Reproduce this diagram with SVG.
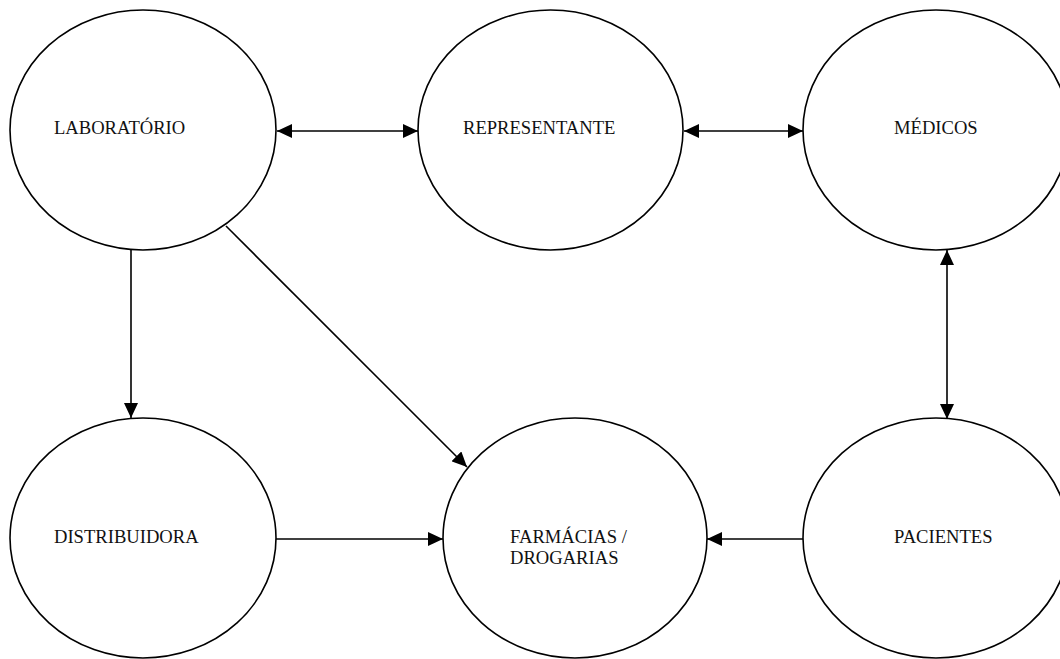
<svg xmlns="http://www.w3.org/2000/svg" width="1060" height="659" viewBox="0 0 1060 659">
<style>
.node ellipse{fill:#fff;stroke:#000;stroke-width:1.6}
.node text{font-family:"Liberation Serif","Times New Roman",serif;font-size:18.6px;fill:#111}
.conn line{stroke:#000;stroke-width:1.6}
</style>
<defs>
<marker id="ah" viewBox="0 0 15 14" refX="15" refY="7" markerWidth="15" markerHeight="14" markerUnits="userSpaceOnUse" orient="auto-start-reverse">
<path d="M0,0 L15,7 L0,14 Z" fill="#000"/>
</marker>
</defs>
<rect width="1060" height="659" fill="#fff"/>
<g id="laboratorio" class="node"><ellipse cx="143" cy="130" rx="133" ry="120"/><text x="54" y="134">LABORATÓRIO</text></g>
<g id="representante" class="node"><ellipse cx="550.5" cy="130" rx="132.5" ry="120"/><text x="463" y="134">REPRESENTANTE</text></g>
<g id="medicos" class="node"><ellipse cx="936" cy="130" rx="133" ry="120"/><text x="894" y="134">MÉDICOS</text></g>
<g id="distribuidora" class="node"><ellipse cx="143" cy="538" rx="133" ry="120"/><text x="54" y="543">DISTRIBUIDORA</text></g>
<g id="farmacias" class="node"><ellipse cx="575" cy="538" rx="132" ry="120"/><text x="510" y="543">FARMÁCIAS /</text><text x="510" y="564">DROGARIAS</text></g>
<g id="pacientes" class="node"><ellipse cx="936" cy="538" rx="133" ry="120"/><text x="894" y="543">PACIENTES</text></g>
<g id="connectors" class="conn">
<line x1="277" y1="131" x2="418" y2="131" marker-start="url(#ah)" marker-end="url(#ah)"/>
<line x1="684" y1="131" x2="803" y2="131" marker-start="url(#ah)" marker-end="url(#ah)"/>
<line x1="131" y1="250" x2="131" y2="418" marker-end="url(#ah)"/>
<line x1="947" y1="250" x2="947" y2="419" marker-start="url(#ah)" marker-end="url(#ah)"/>
<line x1="226" y1="226" x2="467" y2="467" stroke-width="1.3" marker-end="url(#ah)"/>
<line x1="276" y1="539" x2="443" y2="539" marker-end="url(#ah)"/>
<line x1="803" y1="539" x2="707" y2="539" marker-end="url(#ah)"/>
</g>
</svg>
